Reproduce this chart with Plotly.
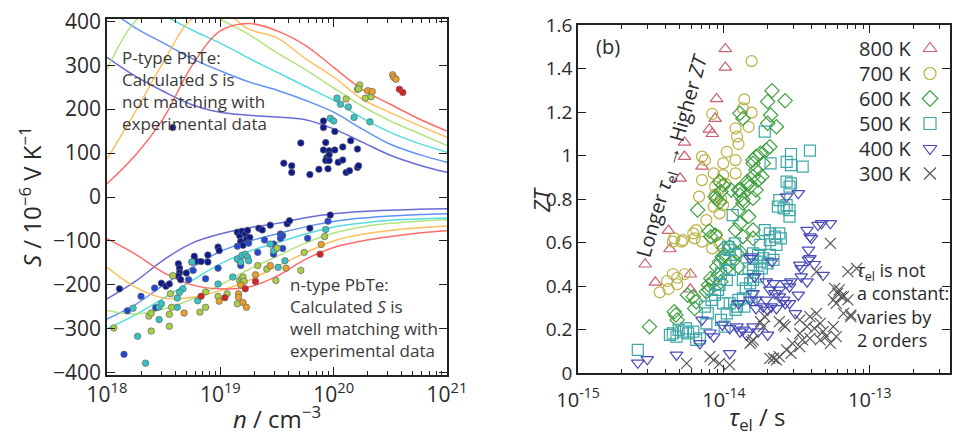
import plotly.graph_objects as go

W, H = 955, 435
FONT = "Open Sans"
INK = "#2a2a2a"


def px_x(p):
    return p / W


def px_y(p):
    return 1 - p / H


# ---------------- panel (a): Seebeck coefficient S vs carrier density n ----------------
temps = [300, 400, 500, 600, 700, 800]
dot_colors = ["#0c1a8e", "#2148d2", "#35c4c4", "#a8cf46", "#e9a02a", "#d62222"]
curve_colors = ["#5b5bd2", "#4d88f2", "#45dada", "#abe274", "#ffb94d", "#ff5c5c"]

# log10(n / cm^-3) grid of the calculated curves
log_n_grid = [18.0, 18.25, 18.5, 18.75, 19.0, 19.25, 19.5, 19.75, 20.0, 20.25, 20.5, 20.75, 21.0]

# calculated S (uV/K), p-type branch
S_p_300 = [318, 275, 240, 210, 193, 186, 182, 176, 155, 125, 95, 73, 56]
S_p_400 = [430, 385, 350, 315, 287, 262, 243, 220, 193, 155, 120, 97, 79]
S_p_500 = [500, 465, 415, 380, 350, 316, 284, 252, 220, 180, 147, 122, 102]
S_p_600 = [290, 400, 440, 450, 405, 370, 328, 290, 248, 207, 173, 145, 117]
S_p_700 = [86, 194, 308, 405, 425, 382, 362, 315, 273, 223, 192, 163, 136]
S_p_800 = [30, 95, 180, 299, 378, 395, 378, 345, 295, 245, 211, 178, 150]

# calculated S (uV/K), n-type branch
S_n_300 = [-232, -192, -143, -105, -84, -70, -60, -47, -38, -33, -30, -28, -27]
S_n_400 = [-278, -245, -200, -160, -124, -101, -84, -68, -56, -48, -43, -40, -38]
S_n_500 = [-300, -268, -230, -190, -152, -124, -104, -84, -68, -59, -53, -50, -48]
S_n_600 = [-258, -266, -255, -232, -200, -165, -135, -105, -82, -68, -60, -55, -52]
S_n_700 = [-160, -205, -230, -228, -213, -190, -158, -127, -100, -85, -76, -70, -66]
S_n_800 = [-95, -130, -172, -200, -209, -205, -180, -142, -115, -100, -90, -82, -77]

# experimental points: (log10 n, S)
pts_n_300 = [(18.11, -209), (18.48, -196), (18.52, -203), (18.55, -198), (18.63, -152), (18.64, -162),
             (18.64, -172), (18.63, -180), (18.65, -188), (18.70, -173), (18.75, -148), (18.79, -146),
             (18.83, -147), (18.77, -135), (18.89, -132), (18.89, -148), (18.98, -114), (18.99, -122),
             (19.15, -80), (19.17, -88), (19.19, -78), (19.22, -84), (19.24, -76), (19.23, -96),
             (19.18, -101), (19.26, -92), (19.20, -110), (19.34, -71), (19.37, -75), (19.44, -64),
             (19.59, -61), (19.61, -54), (19.79, -71), (19.97, -41)]
pts_n_400 = [(18.15, -358), (18.18, -259), (18.30, -226), (18.42, -207), (18.43, -252), (18.72, -188),
             (18.76, -167), (18.87, -186), (18.98, -162), (19.15, -112), (19.25, -105), (19.16, -143),
             (19.18, -156), (19.33, -126), (19.39, -98), (19.53, -84), (19.55, -88), (19.53, -94),
             (19.77, -94), (19.47, -107), (19.49, -118), (19.55, -117), (19.95, -55), (19.47, -130)]
pts_n_500 = [(18.34, -378), (18.27, -317), (18.23, -253), (18.46, -279), (18.46, -250), (18.48, -243),
             (18.62, -230), (18.62, -251), (18.67, -209), (18.64, -217), (18.75, -148), (18.80, -236),
             (18.98, -198), (19.11, -182), (19.15, -141), (19.18, -148), (19.19, -133), (19.22, -130),
             (19.24, -137), (19.25, -145), (19.47, -122), (19.44, -107), (19.57, -145), (19.51, -160),
             (19.93, -74)]
pts_n_600 = [(18.06, -298), (18.39, -305), (18.37, -271), (18.39, -264), (18.55, -294), (18.55, -267),
             (18.57, -251), (18.56, -220), (18.58, -179), (18.82, -262), (18.87, -251), (18.87, -216),
             (18.98, -226), (19.06, -220), (19.17, -190), (19.19, -186), (19.20, -182), (19.21, -192),
             (19.15, -243), (19.33, -156), (19.41, -164), (19.49, -190), (19.50, -116), (19.74, -126),
             (19.71, -167), (19.92, -90)]
pts_n_700 = [(18.68, -264), (18.99, -237), (19.16, -220), (19.16, -228), (19.20, -240), (19.23, -251),
             (19.31, -177), (19.44, -156), (19.58, -162), (19.89, -108), (19.18, -200)]
pts_n_800 = [(18.83, -226), (19.04, -229), (19.22, -209), (19.31, -192), (19.88, -130)]

pts_p_300 = [(18.58, 158), (19.56, 77), (19.63, 71), (19.63, 56), (19.71, 123), (19.79, 51), (19.87, 63),
             (19.91, 173), (19.91, 158), (20.01, 149), (19.93, 124), (19.91, 107), (19.96, 105),
             (19.94, 90), (19.93, 83), (19.96, 83), (19.95, 64), (20.01, 107), (20.04, 79), (20.08, 84),
             (20.08, 114), (20.15, 128), (20.21, 109), (20.11, 56), (20.14, 60), (20.21, 67),
             (20.22, 71), (19.96, 96)]
pts_p_400 = []
pts_p_500 = [(19.97, 179), (20.00, 173), (20.03, 225), (20.06, 211), (20.13, 205), (20.18, 181), (20.32, 171)]
pts_p_600 = [(20.11, 223), (20.21, 245), (20.23, 255), (20.22, 246), (20.28, 225), (20.33, 228)]
pts_p_700 = [(20.30, 242), (20.34, 240), (20.52, 278), (20.53, 272), (20.55, 268)]
pts_p_800 = [(20.58, 245), (20.61, 238)]

curves_p = [S_p_300, S_p_400, S_p_500, S_p_600, S_p_700, S_p_800]
curves_n = [S_n_300, S_n_400, S_n_500, S_n_600, S_n_700, S_n_800]
points_n = [pts_n_300, pts_n_400, pts_n_500, pts_n_600, pts_n_700, pts_n_800]
points_p = [pts_p_300, pts_p_400, pts_p_500, pts_p_600, pts_p_700, pts_p_800]

# ---------------- panel (b): ZT vs electron relaxation time ----------------
legend_temps = [800, 700, 600, 500, 400, 300]
legend_symbols = ["triangle-up-open", "circle-open", "diamond-open", "square-open",
                  "triangle-down-open", "x-thin-open"]
legend_colors = ["#c8606e", "#b9b142", "#3f9f3f", "#3fa7a7", "#4a4ab8", "#555555"]

# (log10 tau_el / s, ZT)
zt_800 = [(-13.99, 1.49), (-13.99, 1.405), (-14.05, 1.26), (-14.06, 1.17), (-14.10, 1.12), (-14.08, 1.10),
          (-14.27, 1.06), (-14.27, 0.995), (-14.15, 0.95), (-14.30, 0.895), (-14.38, 0.655), (-14.37, 0.57),
          (-14.54, 0.50), (-14.47, 0.417), (-14.23, 0.454), (-14.23, 0.385)]
zt_700 = [(-13.81, 1.434), (-13.86, 1.258), (-13.87, 1.217), (-13.81, 1.197), (-14.08, 1.191), (-13.83, 1.132),
          (-13.92, 1.125), (-13.91, 1.087), (-13.90, 1.053), (-13.98, 1.017), (-14.15, 0.995), (-14.13, 0.979),
          (-14.005, 0.964), (-13.92, 0.979), (-13.92, 0.918), (-14.07, 0.918), (-14.005, 0.91), (-14.15, 0.887),
          (-14.17, 0.811), (-14.03, 0.88), (-14.06, 0.857), (-13.99, 0.87), (-14.34, 0.619), (-14.28, 0.611),
          (-14.35, 0.604), (-14.29, 0.604), (-14.21, 0.642), (-14.19, 0.657), (-14.20, 0.619), (-14.15, 0.604),
          (-14.08, 0.573), (-14.03, 0.596), (-14.05, 0.634), (-14.12, 0.703), (-14.03, 0.734), (-14.07, 0.765),
          (-14.005, 0.772), (-14.44, 0.371), (-14.38, 0.386), (-14.39, 0.423), (-14.32, 0.408), (-14.27, 0.454),
          (-14.32, 0.438), (-14.35, 0.455), (-14.06, 0.82), (-14.02, 0.80)]
zt_600 = [(-13.67, 1.298), (-13.58, 1.252), (-13.70, 1.248), (-13.68, 1.186), (-13.89, 1.194), (-13.87, 1.17),
          (-13.64, 1.132), (-13.70, 1.148), (-13.685, 1.04), (-13.71, 1.025), (-13.75, 1.01), (-13.78, 0.995),
          (-13.80, 0.979), (-13.73, 0.964), (-13.80, 0.964), (-13.78, 0.933), (-13.80, 0.903), (-13.74, 0.903),
          (-13.765, 0.887), (-13.83, 0.872), (-13.84, 0.88), (-13.82, 0.857), (-13.89, 0.841), (-13.78, 0.841),
          (-13.90, 0.841), (-13.95, 0.841), (-13.89, 0.818), (-13.87, 0.798), (-13.80, 0.803), (-13.87, 0.78),
          (-14.03, 0.88), (-14.005, 0.864), (-14.02, 0.834), (-14.06, 0.81), (-14.05, 0.80), (-14.03, 0.785),
          (-14.18, 0.749), (-13.90, 0.749), (-13.83, 0.719), (-13.89, 0.688), (-13.92, 0.657), (-13.80, 0.657),
          (-13.87, 0.627), (-13.80, 0.619), (-14.10, 0.653), (-14.09, 0.627), (-14.06, 0.634), (-13.96, 0.58),
          (-13.91, 0.55), (-13.995, 0.543), (-13.94, 0.512), (-13.89, 0.558), (-13.97, 0.489), (-13.90, 0.489),
          (-14.00, 0.573), (-14.01, 0.535), (-14.03, 0.512), (-14.05, 0.489), (-14.04, 0.45), (-14.02, 0.42),
          (-14.075, 0.42), (-14.09, 0.435), (-14.105, 0.405), (-14.10, 0.382), (-14.12, 0.374), (-14.25, 0.359),
          (-14.21, 0.351), (-14.19, 0.328), (-14.20, 0.297), (-14.34, 0.282), (-14.33, 0.267), (-14.32, 0.244),
          (-14.51, 0.213)]
zt_500 = [(-13.72, 1.11), (-13.54, 1.007), (-13.54, 0.956), (-13.57, 0.971), (-13.41, 1.022), (-13.46, 0.949),
          (-13.68, 0.964), (-13.57, 0.88), (-13.54, 0.872), (-13.55, 0.857), (-13.62, 0.795), (-13.57, 0.772),
          (-13.55, 0.749), (-13.94, 0.726), (-13.63, 0.765), (-13.59, 0.757), (-13.55, 0.719), (-13.72, 0.657),
          (-13.685, 0.642), (-13.65, 0.627), (-13.62, 0.642), (-13.685, 0.611), (-13.64, 0.589), (-13.61, 0.619),
          (-13.75, 0.589), (-13.80, 0.55), (-13.765, 0.543), (-13.73, 0.527), (-13.685, 0.543), (-13.75, 0.512),
          (-13.70, 0.504), (-13.66, 0.52), (-13.80, 0.497), (-13.83, 0.481), (-13.74, 0.481), (-13.96, 0.566),
          (-13.92, 0.543), (-13.99, 0.52), (-13.96, 0.474), (-14.02, 0.458), (-13.87, 0.428), (-13.82, 0.412),
          (-13.85, 0.389), (-13.87, 0.343), (-13.81, 0.351), (-13.86, 0.305), (-13.96, 0.32), (-13.92, 0.29),
          (-14.005, 0.32), (-13.98, 0.274), (-14.02, 0.244), (-13.995, 0.213), (-14.59, 0.106), (-14.37, 0.175),
          (-14.35, 0.182), (-14.325, 0.167), (-14.31, 0.198), (-14.28, 0.19), (-14.245, 0.182), (-14.26, 0.205),
          (-14.21, 0.19), (-14.19, 0.152), (-14.165, 0.159), (-14.12, 0.228), (-14.11, 0.274), (-14.13, 0.305),
          (-14.085, 0.336), (-14.06, 0.359), (-14.04, 0.382), (-14.03, 0.405), (-13.98, 0.428), (-13.97, 0.58),
          (-13.925, 0.596), (-13.91, 0.305), (-13.90, 0.336), (-13.80, 0.428), (-13.765, 0.443), (-13.80, 0.474)]
zt_400 = [(-14.59, 0.047), (-14.525, 0.063), (-14.325, 0.083), (-14.165, 0.136), (-13.96, 0.09), (-14.07, 0.167),
          (-14.095, 0.185), (-14.15, 0.244), (-14.01, 0.221), (-13.96, 0.205), (-13.91, 0.213), (-13.89, 0.19),
          (-13.845, 0.175), (-13.80, 0.213), (-13.765, 0.19), (-13.70, 0.175), (-13.87, 0.198), (-13.90, 0.32),
          (-13.82, 0.336), (-13.78, 0.336), (-13.80, 0.366), (-13.78, 0.297), (-13.73, 0.305), (-13.82, 0.527),
          (-13.81, 0.535), (-13.79, 0.443), (-13.71, 0.336), (-13.70, 0.29), (-13.64, 0.297), (-13.59, 0.336),
          (-13.55, 0.32), (-13.62, 0.382), (-13.66, 0.412), (-13.71, 0.42), (-13.67, 0.512), (-13.57, 0.412),
          (-13.55, 0.397), (-13.54, 0.42), (-13.49, 0.359), (-13.62, 0.351), (-13.65, 0.366), (-13.685, 0.382),
          (-13.675, 0.305), (-13.58, 0.32), (-13.51, 0.274), (-13.47, 0.443), (-13.43, 0.42), (-13.48, 0.497),
          (-13.47, 0.481), (-13.42, 0.566), (-13.41, 0.527), (-13.32, 0.45), (-13.43, 0.657), (-13.41, 0.627),
          (-13.40, 0.619), (-13.355, 0.68), (-13.33, 0.688), (-13.27, 0.688), (-13.57, 0.811), (-13.49, 0.826),
          (-13.42, 0.52), (-13.38, 0.50)]
zt_300 = [(-14.255, 0.044), (-14.095, 0.075), (-14.07, 0.06), (-14.03, 0.044), (-13.96, 0.037), (-13.81, 0.144),
          (-13.66, 0.068), (-13.64, 0.06), (-13.685, 0.067), (-13.62, 0.075), (-13.72, 0.259), (-13.59, 0.221),
          (-13.27, 0.596), (-13.365, 0.466), (-13.24, 0.389), (-13.21, 0.382), (-13.25, 0.336), (-13.23, 0.32),
          (-13.18, 0.351), (-13.15, 0.336), (-13.13, 0.267), (-13.75, 0.236), (-13.73, 0.213), (-13.80, 0.152),
          (-13.82, 0.136), (-13.62, 0.236), (-13.58, 0.213), (-13.48, 0.244), (-13.41, 0.259), (-13.365, 0.274),
          (-13.43, 0.213), (-13.38, 0.205), (-13.34, 0.228), (-13.32, 0.19), (-13.30, 0.167), (-13.25, 0.213),
          (-13.23, 0.167), (-13.27, 0.136), (-13.34, 0.152), (-13.41, 0.159), (-13.46, 0.152), (-13.48, 0.121),
          (-13.53, 0.136), (-13.57, 0.106), (-13.54, 0.09), (-13.48, 0.182), (-13.22, 0.366), (-13.195, 0.351),
          (-13.15, 0.466), (-13.09, 0.481), (-13.18, 0.274), (-13.13, 0.259)]
zt_sets = [zt_800, zt_700, zt_600, zt_500, zt_400, zt_300]

n_major = [1e18, 1e19, 1e20, 1e21]
n_major_text = ["10<sup>18</sup>", "10<sup>19</sup>", "10<sup>20</sup>", "10<sup>21</sup>"]
tau_major = [1e-15, 1e-14, 1e-13]
tau_major_text = ["10<sup>-15</sup>", "10<sup>-14</sup>", "10<sup>-13</sup>"]
S_ticks = [-400, -300, -200, -100, 0, 100, 200, 300, 400]
ZT_ticks = [0, 0.2, 0.4, 0.6, 0.8, 1.0, 1.2, 1.4, 1.6]
ZT_tick_text = ["0", "0.2", "0.4", "0.6", "0.8", "1", "1.2", "1.4", "1.6"]


def minor_decades(first_exp, last_exp):
    vals = []
    for e in range(first_exp, last_exp):
        for m in range(2, 10):
            vals.append(m * 10.0 ** e)
    return vals


fig = go.Figure()

# calculated curves
for i, T in enumerate(temps):
    for branch in (curves_p[i], curves_n[i]):
        fig.add_trace(go.Scatter(
            x=[10 ** v for v in log_n_grid], y=branch, mode="lines",
            line=dict(color=curve_colors[i], width=1.5, shape="spline", smoothing=1.0),
            opacity=0.9, xaxis="x", yaxis="y", showlegend=False, hoverinfo="skip"))

# experimental points
for i, T in enumerate(temps):
    pts = points_n[i] + points_p[i]
    fig.add_trace(go.Scatter(
        x=[10 ** p[0] for p in pts], y=[p[1] for p in pts], mode="markers",
        marker=dict(size=6.5, color=dot_colors[i], line=dict(color="#666666", width=0.7)),
        xaxis="x", yaxis="y", showlegend=False, name=f"{T} K"))

# ZT scatter
for i, T in enumerate(legend_temps):
    pts = zt_sets[i]
    fig.add_trace(go.Scatter(
        x=[10 ** p[0] for p in pts], y=[p[1] for p in pts], mode="markers",
        marker=dict(symbol=legend_symbols[i], size=11, color=legend_colors[i],
                    line=dict(color=legend_colors[i], width=1.2)),
        xaxis="x2", yaxis="y2", showlegend=False, name=f"{T} K"))

# legend keys (drawn on a small hidden axis, marker right of the label)
fig.add_trace(go.Scatter(
    x=[0] * len(legend_temps), y=list(range(len(legend_temps))), mode="markers",
    marker=dict(symbol=legend_symbols, size=12, color=legend_colors,
                line=dict(color=legend_colors, width=1.2)),
    xaxis="x3", yaxis="y3", showlegend=False, hoverinfo="skip"))

axis_common = dict(showline=True, linecolor="#222222", linewidth=1.6, mirror="ticks",
                   ticks="inside", tickwidth=1.4, tickcolor="#222222", showgrid=False,
                   zeroline=False, automargin=False)

fig.update_layout(
    width=W, height=H, margin=dict(l=0, r=0, t=0, b=0),
    paper_bgcolor="white", plot_bgcolor="white",
    font=dict(family=FONT, color=INK, size=16),
    xaxis=dict(axis_common, type="log", range=[18, 21], domain=[px_x(107), px_x(447)], anchor="y",
               tickvals=n_major, ticktext=n_major_text, ticklen=8,
               tickfont=dict(size=21, color=INK),
               minor=dict(tickvals=minor_decades(18, 21), ticks="inside", ticklen=4,
                          tickwidth=1.1, tickcolor="#222222")),
    yaxis=dict(axis_common, range=[-405, 405], domain=[px_y(375), px_y(19)], anchor="x",
               tickvals=S_ticks, ticklen=8, tickfont=dict(size=21, color=INK)),
    xaxis2=dict(axis_common, type="log", range=[-15, -12.45], domain=[px_x(578), px_x(950)], anchor="y2",
                tickvals=tau_major, ticktext=tau_major_text, ticklen=8, ticklabelstandoff=8,
                tickfont=dict(size=20, color=INK),
                minor=dict(tickvals=minor_decades(-15, -12), ticks="inside", ticklen=4,
                           tickwidth=1.1, tickcolor="#222222")),
    yaxis2=dict(axis_common, range=[0, 1.6], domain=[px_y(373), px_y(25)], anchor="x2",
                tickvals=ZT_ticks, ticktext=ZT_tick_text, ticklen=8,
                tickfont=dict(size=19, color=INK)),
    xaxis3=dict(visible=False, range=[-1, 1], domain=[px_x(918), px_x(942)], anchor="y3", fixedrange=True),
    yaxis3=dict(visible=False, range=[5.5, -0.5], domain=[px_y(186), px_y(36)], anchor="x3", fixedrange=True),
)

ann = []
# axis titles
ann.append(dict(text="<i>S</i> / 10<sup>−6</sup> V K<sup>−1</sup>", x=px_x(30), y=px_y(197),
                xref="paper", yref="paper", xanchor="center", yanchor="middle", textangle=-90,
                showarrow=False, font=dict(size=24, color=INK)))
ann.append(dict(text="<i>n</i> / cm<sup>−3</sup>", x=px_x(277), y=px_y(417),
                xref="paper", yref="paper", xanchor="center", yanchor="middle",
                showarrow=False, font=dict(size=24, color=INK)))
ann.append(dict(text="<i>ZT</i>", x=px_x(541), y=px_y(200), xref="paper", yref="paper",
                xanchor="center", yanchor="middle", textangle=-90, showarrow=False,
                font=dict(size=22, color=INK)))
ann.append(dict(text="<i>τ</i><sub>el</sub> / s", x=px_x(757), y=px_y(418),
                xref="paper", yref="paper", xanchor="center", yanchor="middle",
                showarrow=False, font=dict(size=24, color=INK)))

# panel notes
ann.append(dict(text="P-type PbTe:<br>Calculated <i>S</i> is<br>not matching with<br>experimental data",
                x=px_x(120), y=px_y(44), xref="paper", yref="paper", xanchor="left", yanchor="top",
                align="left", showarrow=False, font=dict(size=17, color="#3a3a3a")))
ann.append(dict(text="n-type PbTe:<br>Calculated <i>S</i> is<br>well matching with<br>experimental data",
                x=px_x(288), y=px_y(271), xref="paper", yref="paper", xanchor="left", yanchor="top",
                align="left", showarrow=False, font=dict(size=17, color="#3a3a3a")))
ann.append(dict(text="(b)", x=px_x(594), y=px_y(47), xref="paper", yref="paper", xanchor="left",
                yanchor="middle", showarrow=False, font=dict(size=20, color=INK)))
ann.append(dict(text="Longer <i>τ</i><sub>el</sub> → Higher <i>ZT</i>", x=px_x(672), y=px_y(156),
                xref="paper", yref="paper", xanchor="center", yanchor="middle", textangle=-74,
                showarrow=False, font=dict(size=20, color=INK)))
ann.append(dict(text="<i>τ</i><sub>el</sub> is not<br>a constant:<br>varies by<br>2 orders",
                x=px_x(855), y=px_y(256), xref="paper", yref="paper", xanchor="left", yanchor="top",
                align="left", showarrow=False, font=dict(size=18, color=INK)))

# legend labels next to the hidden-axis keys
for i, T in enumerate(legend_temps):
    ann.append(dict(text=f"{T} K", x=-1, y=i, xref="x3", yref="y3", xanchor="right",
                    yanchor="middle", xshift=-4, showarrow=False, font=dict(size=20, color=INK)))

fig.update_layout(annotations=ann)
fig.write_html("out.html")
